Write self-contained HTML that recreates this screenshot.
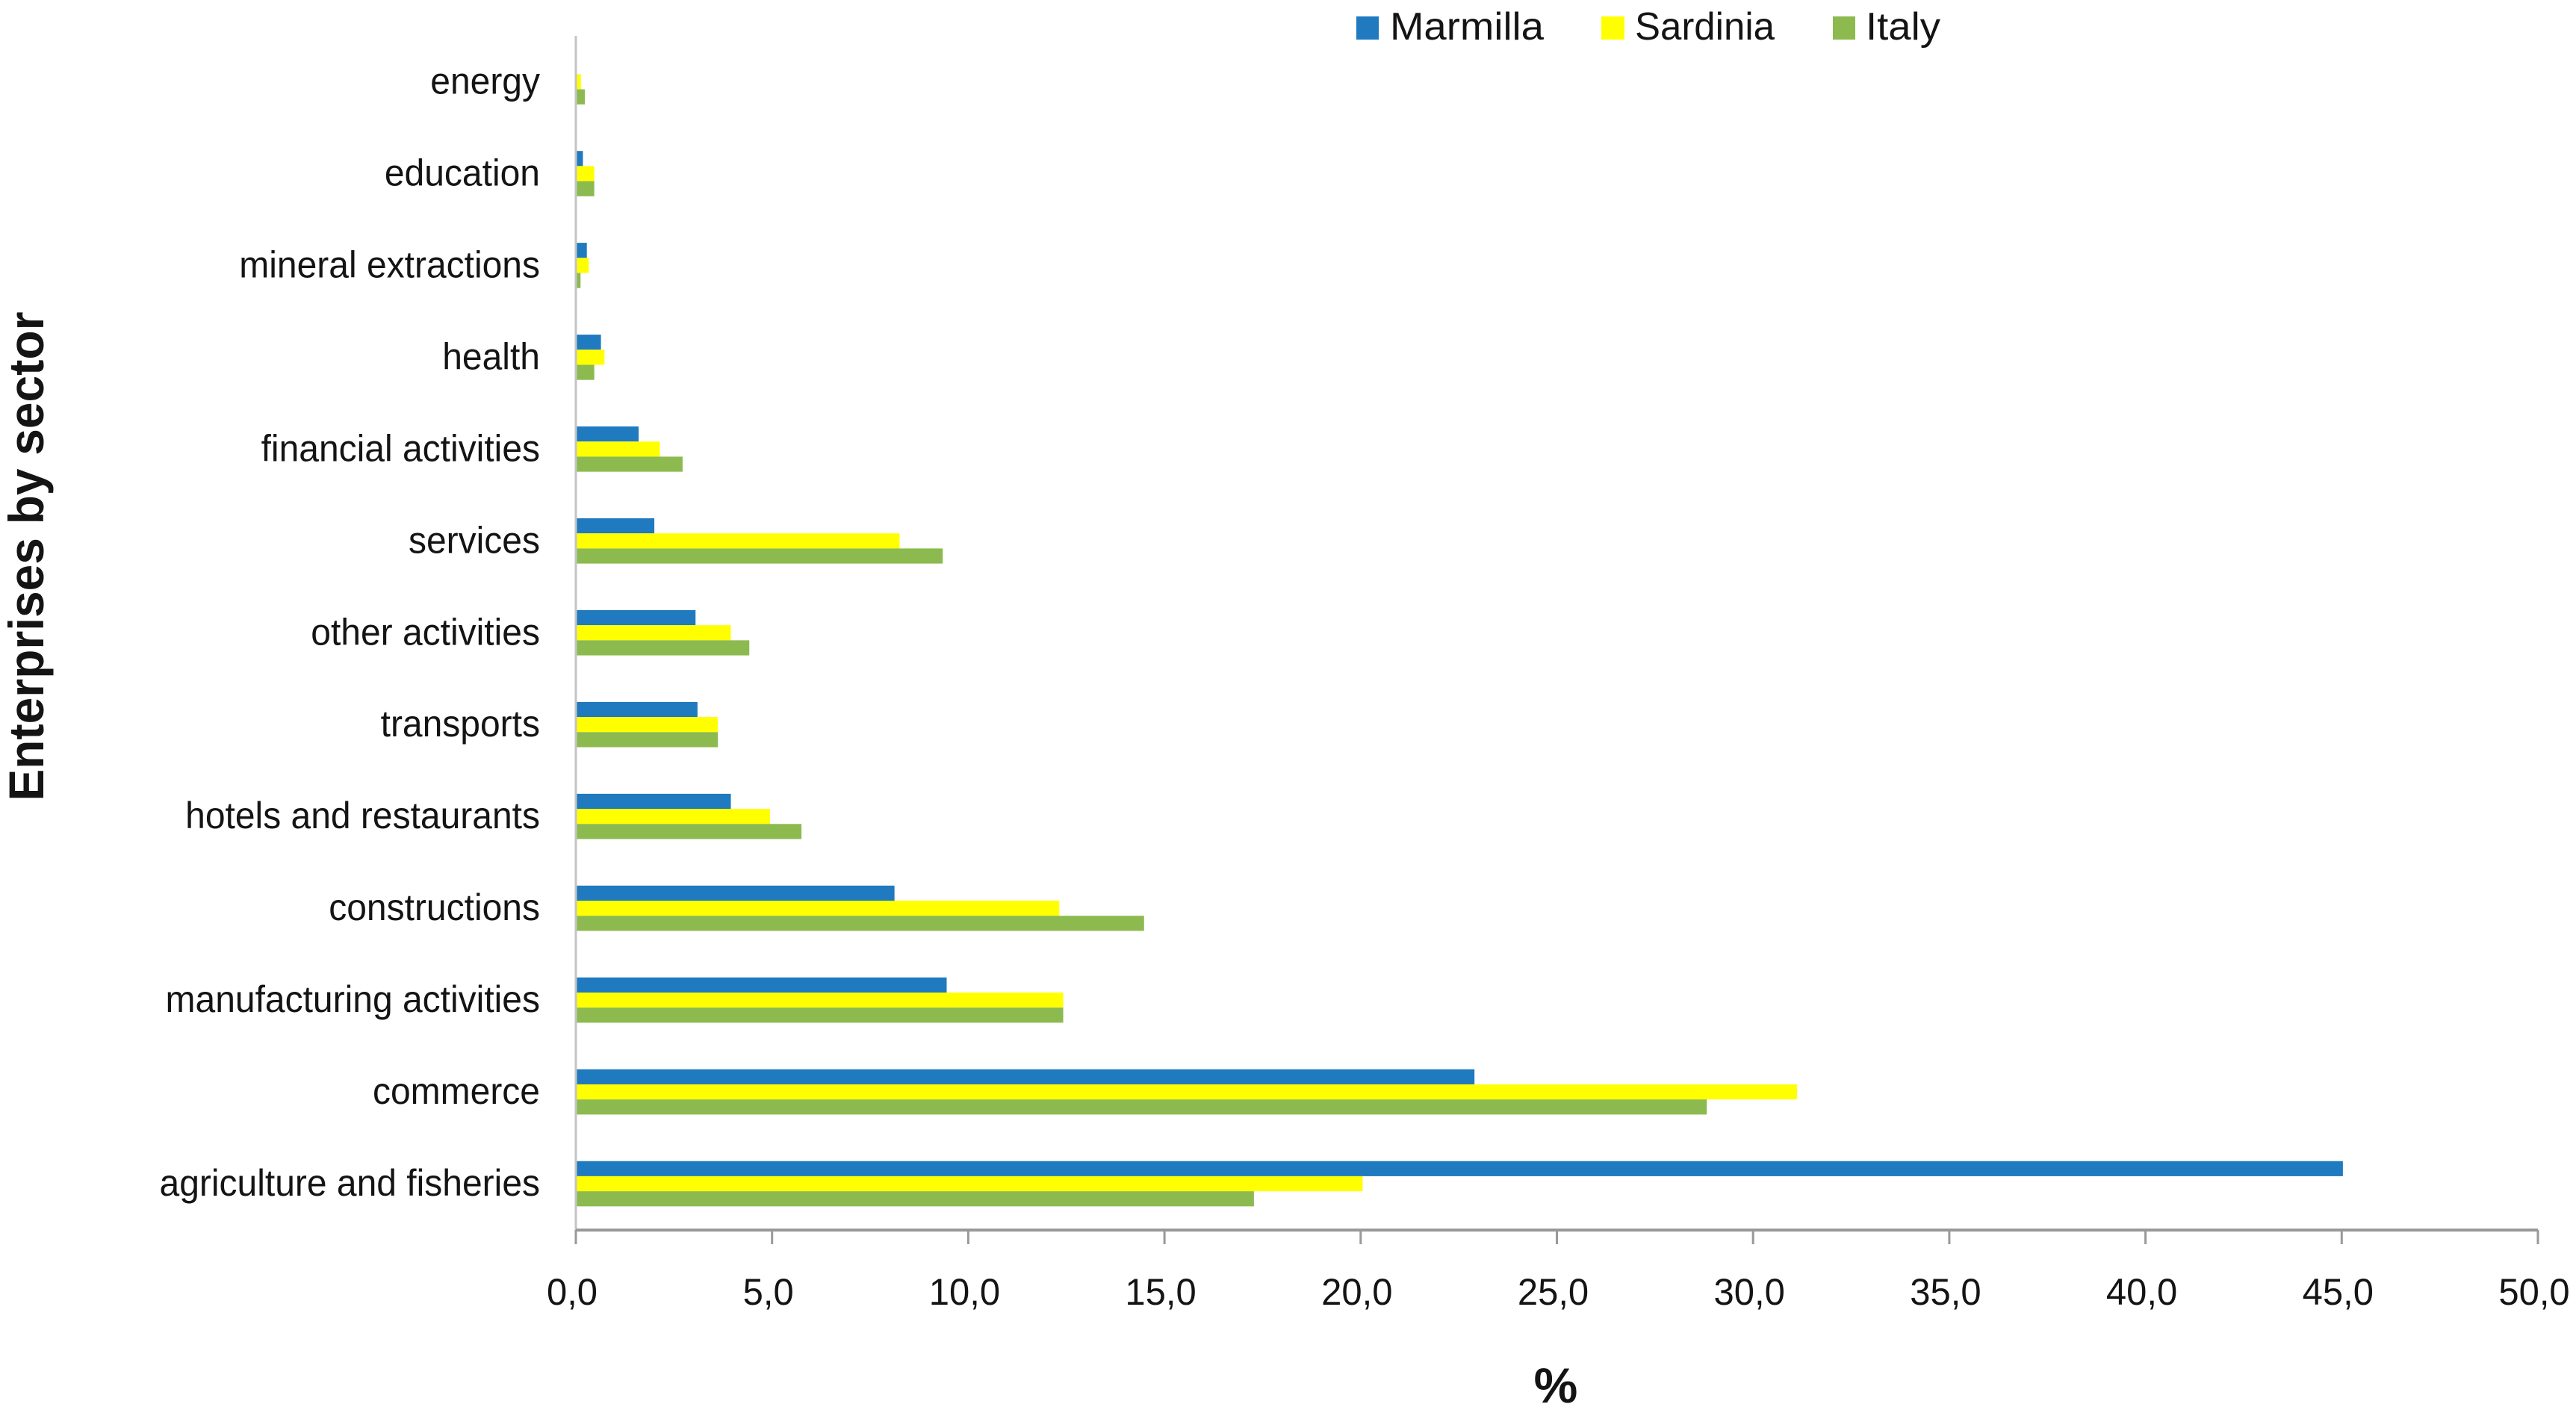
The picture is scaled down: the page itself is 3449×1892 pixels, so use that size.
<!DOCTYPE html>
<html lang="en">
<head>
<meta charset="utf-8">
<title>Enterprises by sector</title>
<style>
html,body{margin:0;padding:0;background:#fff;}
svg{display:block;}
text{font-family:"Liberation Sans",sans-serif;fill:#141414;}
</style>
</head>
<body>
<svg id="chart" xmlns="http://www.w3.org/2000/svg" width="3449" height="1892" viewBox="0 0 3449 1892">
  <rect x="0" y="0" width="3449" height="1892" fill="#ffffff"/>
  <g id="bars"></g>
  <line x1="771" y1="48" x2="771" y2="1647" stroke="#c4c4c4" stroke-width="3"/>
  <line x1="771" y1="1647" x2="3398" y2="1647" stroke="#999999" stroke-width="4"/>
  <g id="ticks"></g>
  <g id="cats"></g>
  <text transform="translate(58,745) rotate(-90)" text-anchor="middle" font-size="66" font-weight="700" textLength="655" lengthAdjust="spacingAndGlyphs">Enterprises by sector</text>
  <text x="2083" y="1878" text-anchor="middle" font-size="66" font-weight="700">%</text>
  <g>
    <g>
      <rect x="1816" y="22" width="30" height="31" fill="#1f7abf"/>
      <text x="1861" y="53" font-size="52" textLength="206" lengthAdjust="spacingAndGlyphs">Marmilla</text>
    </g>
    <g>
      <rect x="2144" y="22" width="31" height="31" fill="#ffff00"/>
      <text x="2189" y="53" font-size="52" textLength="187" lengthAdjust="spacingAndGlyphs">Sardinia</text>
    </g>
    <g>
      <rect x="2454" y="22" width="30" height="31" fill="#8cba4f"/>
      <text x="2498" y="53" font-size="52" textLength="100" lengthAdjust="spacingAndGlyphs">Italy</text>
    </g>
  </g>
</svg>
<script>
const categories = ["energy","education","mineral extractions","health","financial activities","services","other activities","transports","hotels and restaurants","constructions","manufacturing activities","commerce","agriculture and fisheries"];
const marmilla = [0,0.18,0.28,0.64,1.6,2.0,3.05,3.1,3.95,8.12,9.45,22.9,45.03];
const sardinia = [0.13,0.47,0.33,0.73,2.14,8.25,3.95,3.62,4.95,12.32,12.42,31.12,20.05];
const italy = [0.23,0.47,0.12,0.47,2.72,9.35,4.42,3.62,5.75,14.48,12.42,28.82,17.28];
const tickValues = [0,5,10,15,20,25,30,35,40,45,50];

const NS = "http://www.w3.org/2000/svg";
const xScale = v => 771 + v * (3398 - 771) / 50;
const yScale = i => 109.5 + i * 122.96;
const barHeight = 20.2;
const seriesList = [
  {key: "marmilla", values: marmilla, color: "#1f7abf"},
  {key: "sardinia", values: sardinia, color: "#ffff00"},
  {key: "italy", values: italy, color: "#8cba4f"}
];

const barsGroup = document.getElementById("bars");
seriesList.forEach((s, si) => {
  s.values.forEach((v, i) => {
    if (v <= 0) return;
    const el = document.createElementNS(NS, "rect");
    el.setAttribute("x", xScale(0));
    el.setAttribute("y", yScale(i) + (si - 1.5) * barHeight);
    el.setAttribute("width", xScale(v) - xScale(0));
    el.setAttribute("height", barHeight);
    el.setAttribute("fill", s.color);
    
    
    barsGroup.appendChild(el);
  });
});

const catGroup = document.getElementById("cats");
categories.forEach((c, i) => {
  const el = document.createElementNS(NS, "text");
  el.setAttribute("text-anchor", "end");
  el.setAttribute("font-size", "50");
  el.setAttribute("transform", "translate(723," + (yScale(i) + 16) + ") scale(0.96,1)");
  el.textContent = c;
  
  
  catGroup.appendChild(el);
});

const tickGroup = document.getElementById("ticks");
tickValues.forEach(t => {
  const tick = document.createElementNS(NS, "line");
  tick.setAttribute("x1", xScale(t));
  tick.setAttribute("x2", xScale(t));
  tick.setAttribute("y1", 1647);
  tick.setAttribute("y2", 1666);
  tick.setAttribute("stroke", "#999999");
  tick.setAttribute("stroke-width", "3");
  
  
  tickGroup.appendChild(tick);
  const label = document.createElementNS(NS, "text");
  label.setAttribute("text-anchor", "middle");
  label.setAttribute("font-size", "50");
  label.setAttribute("transform", "translate(" + (xScale(t) - 5) + ",1747) scale(0.98,1)");
  label.textContent = t.toFixed(1).replace(".", ",");
  
  
  tickGroup.appendChild(label);
});
</script>
</body>
</html>
